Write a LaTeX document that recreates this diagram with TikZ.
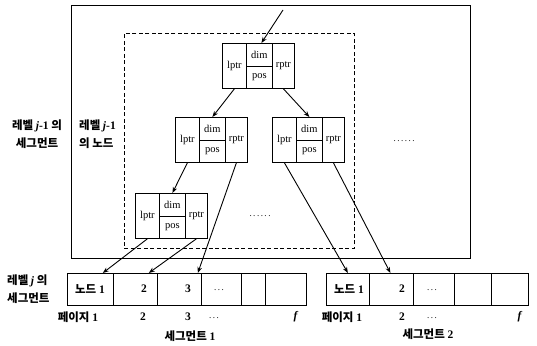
\documentclass[tikz,border=0pt]{standalone}
\usepackage{fontspec}
\setmainfont{Liberation Serif}
\newfontfamily\kr{Noto Sans CJK KR}
\usetikzlibrary{arrows.meta}
\tikzset{
  cell/.style={draw, line width=0.8pt, inner sep=0pt, anchor=north west, font=\fontsize{10.5}{10.5}\selectfont},
  segcell/.style={draw, line width=0.8pt, inner sep=0pt, anchor=north west, minimum height=32pt},
  ptr/.style={line width=0.9pt, -{Stealth[length=6pt,width=4.5pt]}},
  lbl/.style={font=\kr\bfseries\fontsize{11.5}{18}\selectfont, inner sep=0pt},
  num/.style={font=\bfseries\fontsize{11.5}{11.5}\selectfont, inner sep=0pt},
  dotsty/.style={font=\fontsize{9}{9}\selectfont, inner sep=0pt},
  treenode/.pic={
    \node[cell, minimum width=24pt, minimum height=45pt] (-l) at (0,0) {lptr};
    \node[cell, minimum width=26pt, minimum height=22.5pt] (-d) at (24,0) {dim};
    \node[cell, minimum width=26pt, minimum height=22.5pt] (-p) at (24,22.5) {pos};
    \node[cell, minimum width=22pt, minimum height=45pt] (-r) at (50,0) {rptr};
  }
}
\begin{document}
\begin{tikzpicture}[x=1pt,y=-1pt]
\useasboundingbox (0,0) rectangle (537,345);
% frames
\node[draw, line width=1.1pt, minimum width=399pt, minimum height=253pt, anchor=north west, inner sep=0pt] (outer) at (71,5) {};
\node[draw, line width=0.8pt, dash pattern=on 4pt off 2.5pt, minimum width=230pt, minimum height=215pt, anchor=north west, inner sep=0pt] (inner) at (124,33) {};
% left labels
\node[lbl, align=center] (lab1) at (37,134) {레벨 {\rmfamily\textit{j}\textbf{-1}} 의\\세그먼트};
\node[lbl, align=left, anchor=west] (lab2) at (79,134) {레벨 {\rmfamily\textit{j}\textbf{-1}}\\의 노드};
\node[lbl, align=left, anchor=west] (lab3) at (7,289) {레벨 {\rmfamily\textit{j}} 의\\세그먼트};
% tree nodes
\pic (T) at (222,43) {treenode};
\pic (ML) at (175,117) {treenode};
\pic (MR) at (272,117) {treenode};
\pic (BL) at (135,193) {treenode};
\node[dotsty] (dotsA) at (404,141) {.\,.\,.\,.\,.\,.};
\node[dotsty] (dotsB) at (260,216) {.\,.\,.\,.\,.\,.};
% segment 1
\node[segcell, minimum width=46pt] (s1a) at (67,273) {};
\node[segcell, minimum width=44pt] (s1b) at (113,273) {};
\node[segcell, minimum width=44pt] (s1c) at (157,273) {};
\node[segcell, minimum width=40pt] (s1d) at (201,273) {};
\node[segcell, minimum width=24pt] (s1e) at (241,273) {};
\node[segcell, minimum width=41pt] (s1f) at (265,273) {};
% segment 2
\node[segcell, minimum width=43pt] (s2a) at (326,273) {};
\node[segcell, minimum width=44pt] (s2b) at (369,273) {};
\node[segcell, minimum width=41pt] (s2c) at (413,273) {};
\node[segcell, minimum width=37pt] (s2d) at (454,273) {};
\node[segcell, minimum width=37pt] (s2e) at (491,273) {};
% texts in cells
\node[num] (t1a) at (90,289) {{\kr 노드} 1};
\node[num] (t1b) at (144,289) {2};
\node[num] (t1c) at (188,289) {3};
\node[dotsty] (t1d) at (219,290) {.\,.\,.};
\node[num] (t2a) at (349,289) {{\kr 노드} 1};
\node[num] (t2b) at (402,289) {2};
\node[dotsty] (t2c) at (432,290) {.\,.\,.};
% page labels
\node[num] (p1a) at (78,317) {{\kr 페이지} 1};
\node[num] (p1b) at (143,317) {2};
\node[num] (p1c) at (188,317) {3};
\node[dotsty] (p1d) at (214,318) {.\,.\,.};
\node[num] (p1f) at (296,317) {\textit{f}};
\node[num] (p2a) at (342,317) {{\kr 페이지} 1};
\node[num] (p2b) at (402,317) {2};
\node[dotsty] (p2c) at (432,318) {.\,.\,.};
\node[num] (p2f) at (520,317) {\textit{f}};
\node[num] (seg1) at (190,336) {{\kr 세그먼트} 1};
\node[num] (seg2) at (428,334) {{\kr 세그먼트} 2};
% arrows
\coordinate (in) at (283,10);
\draw[ptr] (in) -- ([xshift=2pt]T-d.north);
\draw[ptr] (T-l.south) -- (ML-d.north);
\draw[ptr] (T-r.south) -- (MR-d.north);
\draw[ptr] (ML-l.south) -- (BL-d.north);
\draw[ptr] (ML-r.south) -- ([xshift=-4pt]s1c.north east);
\draw[ptr] (BL-l.south) -- ([xshift=-11pt]s1a.north east);
\draw[ptr] (BL-r.south) -- ([xshift=-9pt]s1b.north east);
\draw[ptr] (MR-l.south) -- (s2a.north);
\draw[ptr] (MR-r.south) -- ([xshift=-1pt]s2b.north);
\end{tikzpicture}
\end{document}
